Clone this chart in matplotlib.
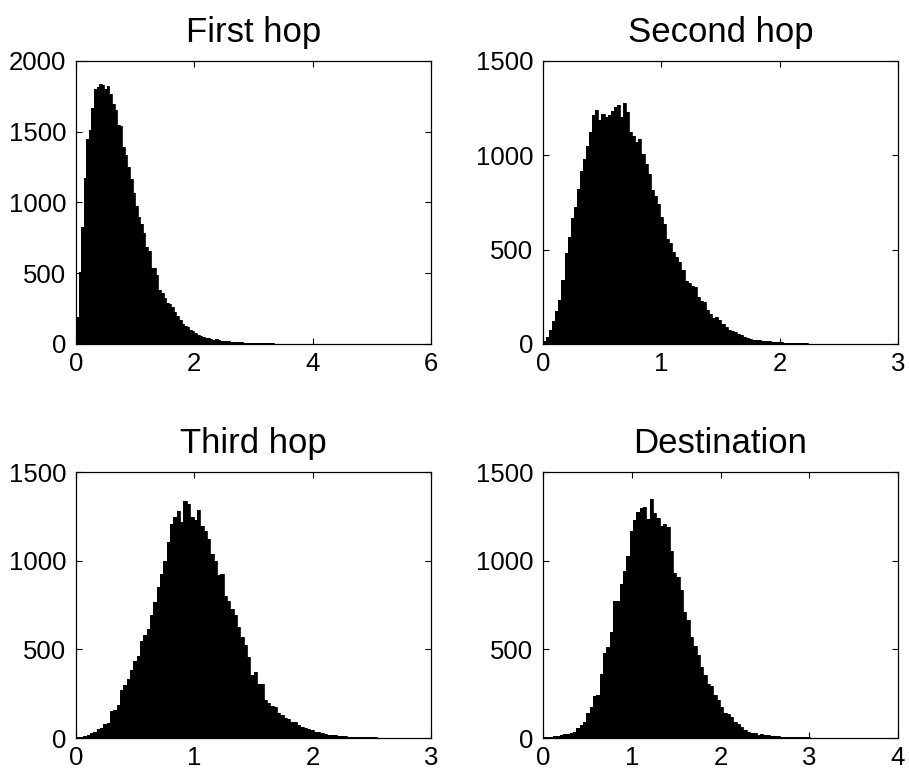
import numpy as np
import matplotlib
matplotlib.use("Agg")
import matplotlib.pyplot as plt

plt.rcParams['font.family'] = ['Liberation Sans', 'DejaVu Sans']

# histogram counts, one value per bin
first_hop = [193, 506, 828, 1176, 1447, 1510, 1668, 1805, 1816, 1835, 1833, 1805, 1823,
             1769, 1694, 1652, 1546, 1541, 1393, 1334, 1252, 1169, 1064, 976, 899, 847,
             786, 687, 656, 534, 539, 487, 381, 358, 322, 287, 280, 263, 228, 198, 169,
             141, 127, 118, 99, 94, 80, 66, 59, 52, 45, 42, 35, 31, 35, 28, 24, 22, 20,
             18, 17, 15, 13, 12, 11, 10, 9, 8, 8, 7, 6, 6, 5, 5, 4, 4, 4, 3, 3, 3, 2, 3,
             2, 2, 2, 1, 2, 1, 1, 1, 1, 0, 1, 1, 0, 1, 0, 0, 1, 0, 1, 0, 0, 1]
first_start, first_width = 0.0, 0.0435

second_hop = [14, 35, 72, 120, 177, 235, 341, 481, 567, 668, 724, 823, 919, 982, 1048,
              1124, 1212, 1239, 1189, 1219, 1205, 1216, 1237, 1258, 1269, 1203, 1276,
              1228, 1122, 1104, 1071, 1087, 1007, 952, 901, 816, 786, 742, 671, 636, 557,
              535, 486, 459, 433, 390, 336, 322, 309, 300, 249, 226, 221, 178, 157, 140,
              141, 125, 108, 90, 76, 67, 64, 55, 46, 37, 34, 28, 23, 23, 19, 16, 16, 14,
              12, 10, 8, 8, 6, 5, 6, 4, 4, 3, 3, 3, 2, 2, 2, 1, 1, 2, 1, 1, 0, 1, 1, 0, 1, 1]
second_start, second_width = 0.0, 0.026

third_hop = [4, 7, 11, 17, 26, 36, 49, 54, 79, 86, 154, 157, 185, 273, 298, 330, 382, 435,
             461, 547, 579, 616, 691, 766, 850, 925, 1000, 1103, 1206, 1244, 1281, 1219,
             1334, 1322, 1244, 1231, 1285, 1197, 1169, 1122, 1037, 999, 920, 924, 802, 774,
             727, 691, 625, 569, 522, 457, 354, 373, 307, 307, 215, 196, 180, 172, 139, 129,
             114, 105, 92, 92, 73, 64, 54, 49, 45, 36, 32, 26, 22, 19, 15, 15, 13, 11, 9, 8,
             7, 6, 5, 4, 4, 3, 3, 3, 2, 2, 2, 1, 1, 1]
third_start, third_width = 0.006, 0.0282

destination = [4, 7, 7, 11, 13, 15, 21, 24, 26, 32, 54, 73, 92, 142, 172, 236, 242, 363,
               479, 513, 597, 775, 775, 869, 944, 1028, 1169, 1231, 1272, 1296, 1304, 1234,
               1347, 1266, 1240, 1197, 1206, 1191, 1056, 929, 907, 832, 710, 663, 569, 517,
               466, 401, 354, 307, 292, 242, 214, 176, 139, 133, 120, 92, 79, 60, 45, 36, 30,
               26, 19, 21, 15, 15, 11, 11, 9, 7, 6, 5, 5, 4, 4, 3, 3, 3, 2, 2, 2, 2, 1, 1, 1,
               1, 0, 1, 1]
dest_start, dest_width = 0.0, 0.0376

titles = ["First hop", "Second hop", "Third hop", "Destination"]
xlims = [6, 3, 3, 4]
xticks = [[0, 2, 4, 6], [0, 1, 2, 3], [0, 1, 2, 3], [0, 1, 2, 3, 4]]
ylims = [2000, 1500, 1500, 1500]
yticks = [[0, 500, 1000, 1500, 2000], [0, 500, 1000, 1500],
          [0, 500, 1000, 1500], [0, 500, 1000, 1500]]

series = [(first_hop, first_start, first_width),
          (second_hop, second_start, second_width),
          (third_hop, third_start, third_width),
          (destination, dest_start, dest_width)]

W, H = 909, 778
fig = plt.figure(figsize=(W / 100, H / 100), dpi=100)

# axes boxes in pixels: left, top, right, bottom
boxes = [(76, 61, 431, 344), (543, 61, 898, 344),
         (76, 472, 431, 738), (543, 472, 898, 738)]

for i in range(4):
    l, t, r, b = boxes[i]
    ax = fig.add_axes([l / W, 1 - b / H, (r - l) / W, (b - t) / H])
    counts, start, width = series[i]
    edges = start + width * np.arange(len(counts) + 1)
    ax.stairs(counts, edges, fill=True, color='black', linewidth=0)
    ax.stairs(counts, edges, color='black', linewidth=0.6)
    ax.set_xlim(0, xlims[i])
    ax.set_ylim(0, ylims[i])
    ax.set_xticks(xticks[i])
    ax.set_yticks(yticks[i])
    ax.tick_params(direction='in', length=4, width=0.8, labelsize=18.5,
                   top=True, right=True)
    ax.tick_params(axis='x', pad=6)
    ax.tick_params(axis='y', pad=7)
    for s in ax.spines.values():
        s.set_linewidth(0.9)
    ax.set_title(titles[i], fontsize=25, pad=14)

fig.savefig("out.png", dpi=100)
